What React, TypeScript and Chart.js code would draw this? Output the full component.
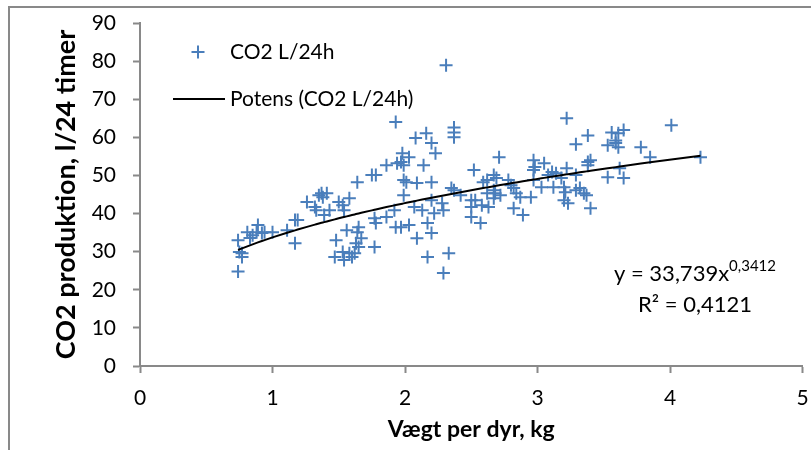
import { useEffect, useRef } from "react";
import { Chart, registerables } from "chart.js";

Chart.register(...registerables);

// ---- data ----
const weightKg = [
  0.74, 0.74, 0.75, 0.77, 0.77, 0.81, 0.83, 0.85, 0.89, 0.88, 0.92, 0.94, 1.0, 1.11, 1.17, 1.19, 1.17, 1.26, 1.32, 1.33,
  1.35, 1.37, 1.38, 1.41, 1.43, 1.39, 1.5, 1.53, 1.58, 1.54, 1.56, 1.64, 1.64, 1.48, 1.47, 1.53, 1.54, 1.58, 1.6, 1.62,
  1.63, 1.65, 1.67,
  1.93, 2.08, 2.16, 2.2, 2.23, 2.37, 2.37, 2.37, 1.98, 2.03, 1.94, 1.97, 1.99, 1.86, 1.75, 1.78, 2.14, 1.99, 2.01, 2.09,
  2.2, 1.99, 2.35, 2.37, 2.42, 2.52, 2.5, 2.5, 2.5, 2.59, 2.58, 2.57, 2.2, 2.28, 2.29, 2.22, 2.07, 2.13, 1.92, 1.86,
  1.93, 1.97, 2.03, 2.17, 2.2, 2.09, 1.77, 1.78, 1.77, 1.65, 2.17, 2.33, 2.29, 2.31,
  3.22, 3.38, 3.29, 2.71, 2.97, 2.98, 3.05, 2.97, 3.38, 3.38, 3.22, 3.29, 3.11, 3.14, 3.08, 3.18, 2.67, 2.69, 2.62, 2.78,
  2.8, 2.97, 2.53, 2.62, 2.67, 2.68, 2.72, 2.67, 2.63, 2.82, 2.84, 2.87, 2.95, 2.82, 2.89, 3.03, 3.12, 3.2, 3.21, 3.2,
  3.23, 3.29, 3.32, 3.35, 3.37, 3.4,
  3.56, 3.61, 3.65, 3.53, 3.59, 3.61, 3.59, 3.78, 3.85, 4.01, 4.23, 3.4, 3.62, 3.53, 3.65,
];
const co2L = [
  33.0, 24.8, 29.9, 29.6, 28.6, 35.1, 33.6, 34.3, 37.0, 35.1, 34.9, 35.1, 35.1, 35.6, 38.3, 38.3, 32.2, 43.0, 41.7, 40.9,
  44.8, 45.3, 44.3, 45.3, 40.9, 39.6, 43.0, 42.2, 44.0, 40.9, 35.6, 48.2, 35.1, 33.0, 28.6, 29.9, 27.8, 29.6, 28.6, 29.6,
  32.2, 31.2, 33.5,
  64.0, 59.8, 61.1, 58.5, 55.8, 62.6, 61.3, 60.0, 55.8, 54.8, 53.2, 53.5, 52.7, 52.7, 50.1, 50.1, 52.7, 48.8, 48.2, 48.0,
  48.2, 44.8, 46.7, 46.1, 44.8, 51.4, 43.5, 41.7, 39.1, 48.2, 42.2, 37.5, 43.5, 42.7, 40.9, 40.1, 41.7, 40.9, 40.9, 39.1,
  36.4, 36.4, 37.0, 37.5, 34.9, 33.5, 38.8, 37.5, 31.2, 36.4, 28.6, 29.6, 24.4, 78.9,
  65.0, 60.5, 58.2, 54.8, 54.0, 52.2, 53.2, 51.4, 53.5, 52.7, 51.9, 50.1, 50.9, 50.6, 50.1, 49.3, 50.1, 49.3, 48.8, 48.8,
  47.4, 48.8, 43.5, 45.3, 46.1, 45.3, 44.8, 44.0, 41.7, 46.7, 45.3, 44.3, 44.3, 41.4, 39.6, 46.9, 46.9, 46.9, 45.6, 43.5,
  42.7, 46.1, 46.7, 45.3, 44.8, 41.4,
  61.3, 61.1, 61.9, 57.9, 58.5, 57.4, 59.2, 57.4, 54.8, 63.2, 54.8, 54.0, 51.9, 49.5, 49.3,
];

const seriesLabel = "CO2 L/24h";
const trendLabel = "Potens (CO2 L/24h)";
const xTitle = "Vægt per dyr, kg";
const yTitle = "CO2 produktion, l/24 timer";
const xRange = [0, 5];
const yRange = [0, 90];
const xStep = 1;
const yStep = 10;
// power trendline shown on the chart: y = 33,739x^0,3412
const trendCoefA = 33.739;
const trendCoefB = 0.3412;
const equationMain = "y = 33,739x";
const equationSup = "0,3412";
const rSquaredText = "R² = 0,4121";

const FONT = "Lato, 'DejaVu Sans', sans-serif";
const BLUE = "#4a7ebb";
const GRAY = "#898989";

function zeroPadding(scale: any) {
  scale.paddingTop = 0;
  scale.paddingBottom = 0;
  scale.paddingLeft = 0;
  scale.paddingRight = 0;
}

export default function App() {
  const ref = useRef<HTMLCanvasElement | null>(null);

  useEffect(() => {
    document.body.style.margin = "0";
    const canvas = ref.current;
    if (!canvas) return;

    const scatterData = weightKg.map((x, i) => ({ x, y: co2L[i] }));
    const sortedX = [...weightKg].sort((a, b) => a - b);
    const trendData = sortedX.map((x) => ({ x, y: trendCoefA * Math.pow(x, trendCoefB) }));

    const overlay = {
      id: "overlay",
      afterDraw(chart: any) {
        const { ctx, chartArea } = chart;
        const L = chartArea.left;
        const T = chartArea.top;
        ctx.save();
        // outer frame
        ctx.strokeStyle = GRAY;
        ctx.lineWidth = 2;
        ctx.strokeRect(9, 7, 900, 600);

        // legend
        ctx.fillStyle = "#000";
        ctx.font = `21px ${FONT}`;
        ctx.textBaseline = "middle";
        ctx.textAlign = "left";
        const cx = L + 58;
        const cy = T + 29;
        ctx.strokeStyle = BLUE;
        ctx.lineWidth = 2;
        ctx.beginPath();
        ctx.moveTo(cx - 6.5, cy);
        ctx.lineTo(cx + 6.5, cy);
        ctx.moveTo(cx, cy - 6.5);
        ctx.lineTo(cx, cy + 6.5);
        ctx.stroke();
        ctx.fillText(seriesLabel, L + 90, cy);
        const ly = T + 76;
        ctx.strokeStyle = "#000";
        ctx.beginPath();
        ctx.moveTo(L + 33, ly);
        ctx.lineTo(L + 85, ly);
        ctx.stroke();
        ctx.fillText(trendLabel, L + 90, ly);

        // equation
        const ecx = L + 555;
        ctx.font = `22px ${FONT}`;
        const wMain = ctx.measureText(equationMain).width;
        ctx.font = `15px ${FONT}`;
        const wSup = ctx.measureText(equationSup).width;
        const startX = ecx - (wMain + wSup) / 2;
        ctx.font = `22px ${FONT}`;
        ctx.fillText(equationMain, startX, T + 251);
        ctx.font = `15px ${FONT}`;
        ctx.fillText(equationSup, startX + wMain, T + 243);
        ctx.font = `22px ${FONT}`;
        ctx.textAlign = "center";
        ctx.fillText(rSquaredText, ecx, T + 282);
        ctx.restore();
      },
    };

    const chart = new Chart(canvas, {
      type: "scatter",
      data: {
        datasets: [
          {
            type: "line",
            label: trendLabel,
            data: trendData,
            borderColor: "#000",
            borderWidth: 2,
            pointRadius: 0,
            fill: false,
            tension: 0,
            order: 0,
          } as any,
          {
            label: seriesLabel,
            data: scatterData,
            pointStyle: "cross",
            pointRadius: 6.5,
            pointBorderWidth: 2,
            borderColor: BLUE,
            backgroundColor: BLUE,
            order: 1,
          },
        ],
      },
      options: {
        responsive: false,
        animation: false,
        layout: { padding: { left: 0, top: 23, right: 3, bottom: 0 } },
        plugins: {
          legend: { display: false },
          tooltip: { enabled: false },
          title: { display: false },
        },
        scales: {
          x: {
            type: "linear",
            min: xRange[0],
            max: xRange[1],
            ticks: { stepSize: xStep, color: "#000", font: { family: FONT, size: 21 }, padding: 13, maxRotation: 0 },
            grid: { drawOnChartArea: false, drawTicks: true, tickLength: 7, tickColor: GRAY, tickWidth: 2 },
            border: { display: true, color: GRAY, width: 2 },
            title: {
              display: true,
              text: xTitle,
              color: "#000",
              font: { family: FONT, size: 23, weight: "bold" },
              padding: { top: 0, bottom: 7 },
            },
            afterFit(scale: any) {
              scale.height = 84;
              zeroPadding(scale);
            },
          },
          y: {
            type: "linear",
            min: yRange[0],
            max: yRange[1],
            ticks: { stepSize: yStep, color: "#000", font: { family: FONT, size: 21 }, padding: 17 },
            grid: { drawOnChartArea: false, drawTicks: true, tickLength: 7, tickColor: GRAY, tickWidth: 2 },
            border: { display: true, color: GRAY, width: 2 },
            title: {
              display: true,
              text: yTitle,
              color: "#000",
              font: { family: FONT, size: 27, weight: "bold" },
              padding: { top: 50, bottom: 0 },
            },
            afterFit(scale: any) {
              scale.width = 140;
              zeroPadding(scale);
            },
          },
        },
      },
      plugins: [overlay],
    });

    return () => chart.destroy();
  }, []);

  return (
    <div style={{ width: 811, height: 450, position: "relative", background: "#fff" }}>
      <canvas ref={ref} width={811} height={450} />
    </div>
  );
}
